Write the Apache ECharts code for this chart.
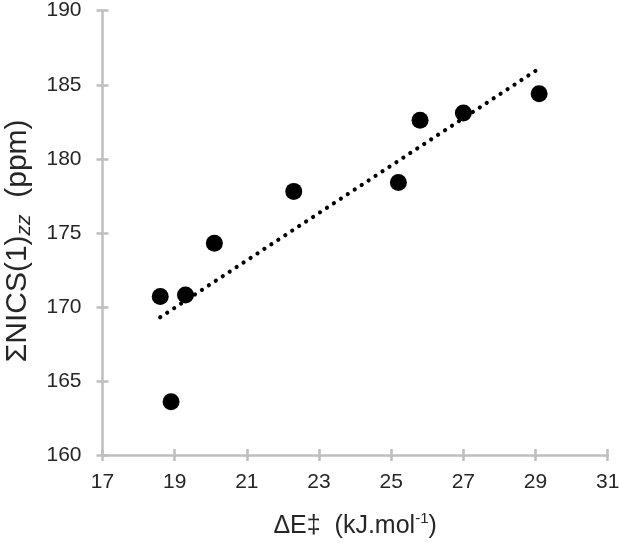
<!DOCTYPE html>
<html>
<head>
<meta charset="utf-8">
<script src="https://cdn.jsdelivr.net/npm/echarts@6/dist/echarts.min.js"></script>
<style>
html,body{margin:0;padding:0;background:#fff;}
#chart{width:619px;height:543px;}
</style>
</head>
<body>
<div id="chart"></div>
<script>
// Data
var energyBarrier = [18.6, 18.9, 19.3, 20.1, 22.3, 25.2, 25.8, 27.0, 29.1];
var sumNICS = [170.7, 163.6, 170.8, 174.3, 177.8, 178.4, 182.6, 183.1, 184.4];
var trendX = [18.6, 29.1];
var trendY = [169.3, 186.1];
var xTicks = [17, 19, 21, 23, 25, 27, 29, 31];
var yTicks = [160, 165, 170, 175, 180, 185, 190];

var points = energyBarrier.map(function (x, i) { return [x, sumNICS[i]]; });
var trend = trendX.map(function (x, i) { return [x, trendY[i]]; });

var axisColor = '#bfbfbf';
var textColor = '#262626';
var font = 'Liberation Sans, Arial, sans-serif';

function baseX(inside, main) {
  return {
    type: 'value', position: 'bottom',
    min: xTicks[0], max: xTicks[xTicks.length - 1], interval: 2,
    axisLine: { show: main, onZero: false, lineStyle: { color: axisColor, width: 2.5 } },
    axisTick: { show: true, inside: inside, length: 6, lineStyle: { color: axisColor, width: 2.5 } },
    axisLabel: { show: main, margin: 17, color: textColor, fontSize: 21, fontFamily: font },
    splitLine: { show: false }
  };
}
function baseY(inside, main) {
  return {
    type: 'value', position: 'left',
    min: yTicks[0], max: yTicks[yTicks.length - 1], interval: 5,
    axisLine: { show: main, onZero: false, lineStyle: { color: axisColor, width: 2.5 } },
    axisTick: { show: true, inside: inside, length: 6, lineStyle: { color: axisColor, width: 2.5 } },
    axisLabel: { show: main, margin: 21, color: textColor, fontSize: 21, fontFamily: font },
    splitLine: { show: false }
  };
}

var x0 = baseX(false, true);
x0.name = '{m|ΔE‡  (kJ.mol}{sup|-1}{m|)}';
x0.nameLocation = 'middle';
x0.nameGap = 56;
x0.nameTextStyle = {
  color: textColor, fontFamily: font,
  rich: {
    m: { fontSize: 25, lineHeight: 30, verticalAlign: 'middle', color: textColor, fontFamily: font },
    sup: { fontSize: 15, lineHeight: 15, verticalAlign: 'top', color: textColor, fontFamily: font }
  }
};
var y0 = baseY(false, true);
y0.name = '{m|ΣNICS(1)}{sub|zz}{m|  (ppm)}';
y0.nameLocation = 'middle';
y0.nameGap = 68;
y0.nameRotate = 90;
y0.nameTextStyle = {
  color: textColor, fontFamily: font,
  padding: [0, 16, 0, 0],
  rich: {
    m: { fontSize: 30, lineHeight: 34, verticalAlign: 'middle', color: textColor, fontFamily: font },
    sub: { fontSize: 21, lineHeight: 18, verticalAlign: 'bottom', fontStyle: 'italic', color: textColor, fontFamily: font }
  }
};

var chart = echarts.init(document.getElementById('chart'), null, { renderer: 'canvas' });
chart.setOption({
  animation: false,
  backgroundColor: '#ffffff',
  grid: { left: 102.5, right: 11.3, top: 10.7, bottom: 88, containLabel: false, outerBoundsMode: 'none' },
  xAxis: [x0, baseX(true, false)],
  yAxis: [y0, baseY(true, false)],
  series: [
    {
      type: 'line', xAxisIndex: 0, yAxisIndex: 0, data: trend,
      symbol: 'none', silent: true, z: 2,
      lineStyle: { color: '#000', width: 4.2, type: [0.01, 8.3], cap: 'round' }
    },
    {
      type: 'scatter', xAxisIndex: 0, yAxisIndex: 0, data: points,
      symbol: 'circle', symbolSize: 17, z: 3,
      itemStyle: { color: '#000', opacity: 1 }
    }
  ]
});
</script>
</body>
</html>
